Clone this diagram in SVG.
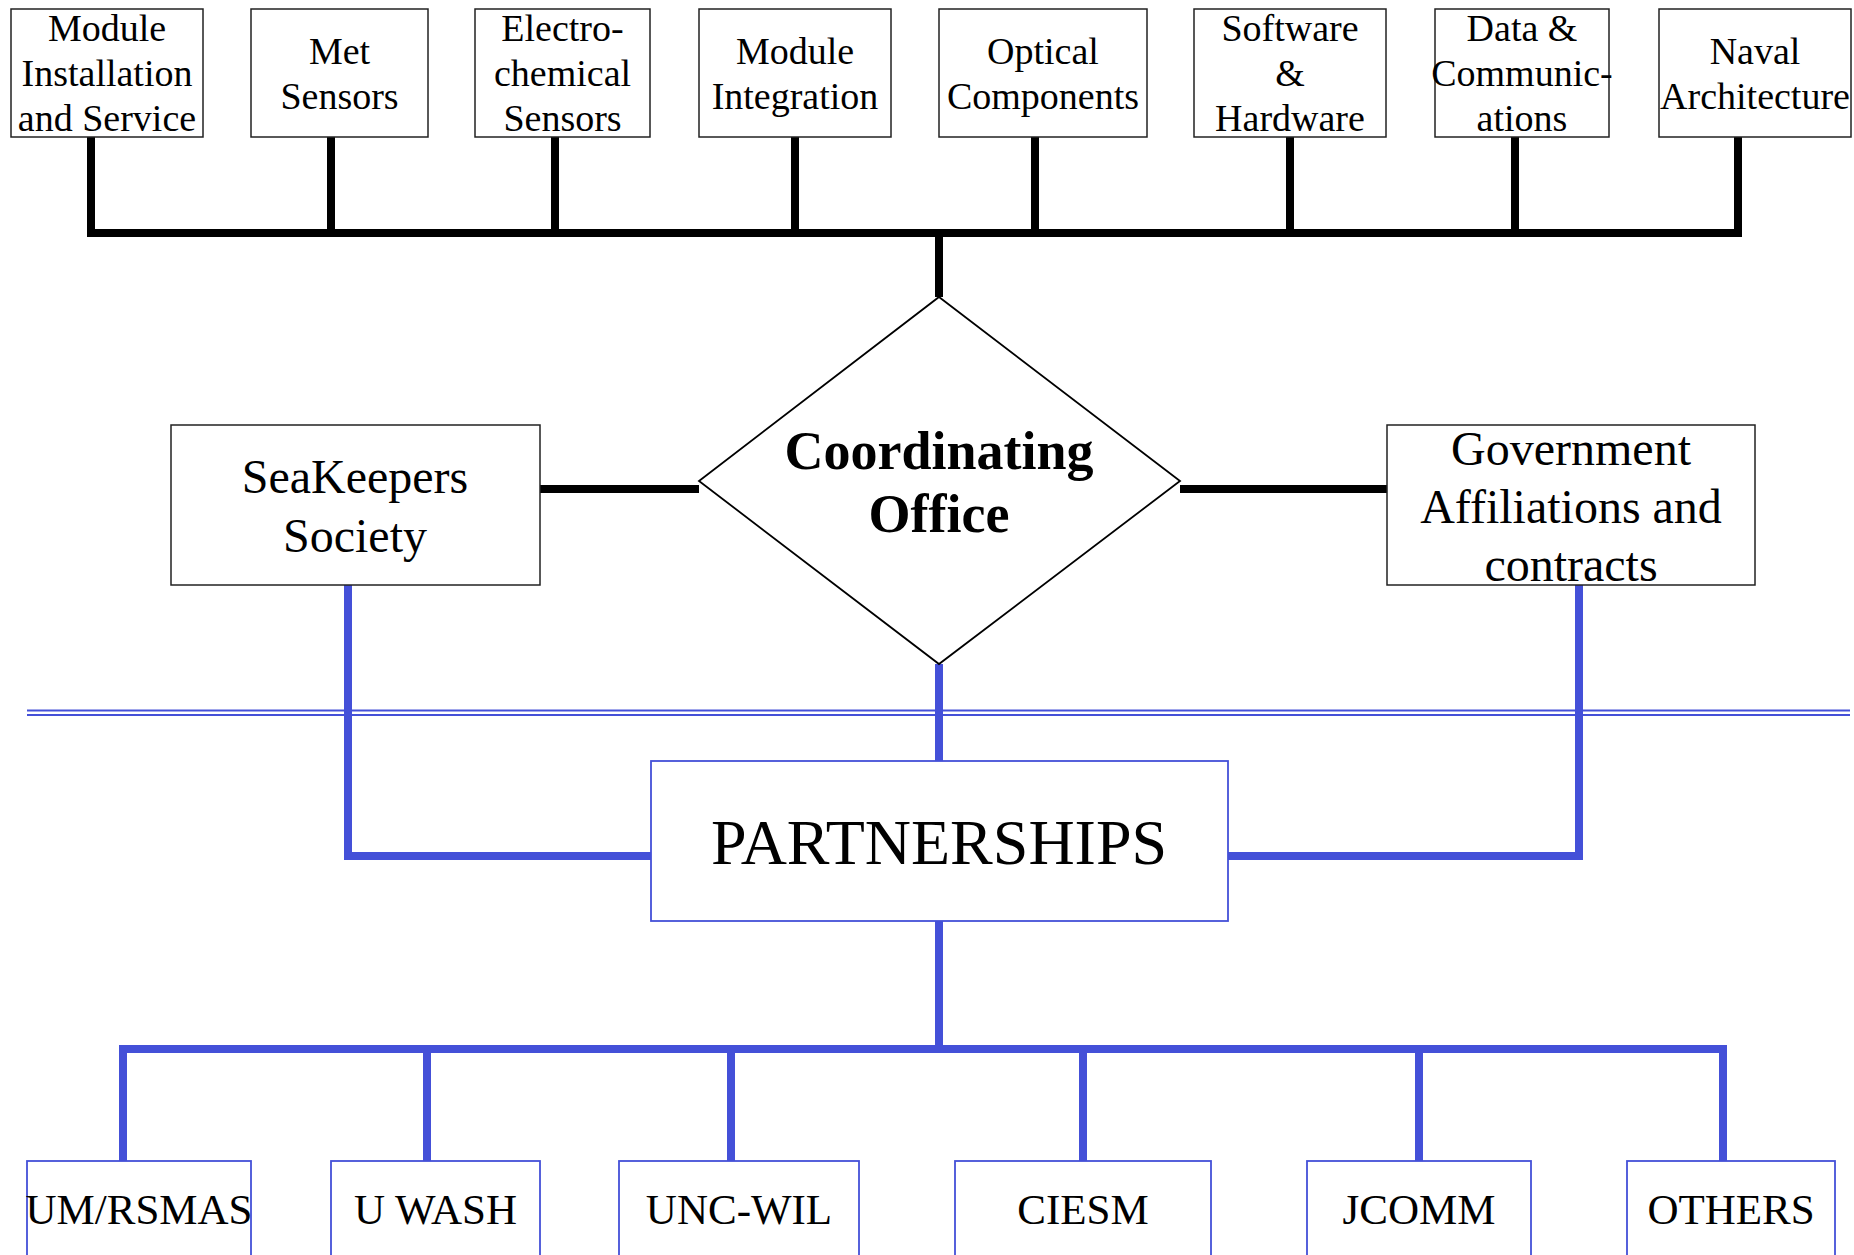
<svg xmlns="http://www.w3.org/2000/svg" width="1854" height="1255" viewBox="0 0 1854 1255">
<style>
.box{fill:#fff;stroke:#222;stroke-width:1.5}
.bbox{fill:#fff;stroke:#4450d8;stroke-width:1.8}
.t{font-family:"Liberation Serif","Times New Roman",serif;fill:#000;text-anchor:middle}
.top{font-size:38px}
.mid{font-size:48px}
.bot{font-size:43px}
.blk{stroke:#000;stroke-width:8;fill:none}
.blu{stroke:#4450d8;stroke-width:8;fill:none}
.dbl{stroke:#4450d8;stroke-width:2;fill:none}
</style>
<rect width="1854" height="1255" fill="#fff"/>
<g id="connectors">
  <path class="blk" d="M91,137V233M331,137V233M555,137V233M795,137V233M1035,137V233M1290,137V233M1515,137V233M1738,137V233"/>
  <path class="blk" d="M87,233H1742M939,233V297"/>
  <path class="blk" d="M540,489H699M1180,489H1387"/>
  <path class="dbl" d="M27,710.5H1850M27,715H1850"/>
  <path class="blu" d="M939,664V761M348,585V856H651M1579,585V856H1227"/>
  <path class="blu" d="M939,921V1049M119,1049H1727M123,1049V1161M427,1049V1161M731,1049V1161M1083,1049V1161M1419,1049V1161M1723,1049V1161"/>
</g>
<g id="n-module-install"><rect class="box" x="11" y="9" width="192" height="128"/><text class="t top" x="107" y="41">Module</text><text class="t top" x="107" y="86">Installation</text><text class="t top" x="107" y="131">and Service</text></g>
<g id="n-met"><rect class="box" x="251" y="9" width="177" height="128"/><text class="t top" x="339.5" y="64">Met</text><text class="t top" x="339.5" y="109">Sensors</text></g>
<g id="n-electro"><rect class="box" x="475" y="9" width="175" height="128"/><text class="t top" x="562.5" y="41">Electro-</text><text class="t top" x="562.5" y="86">chemical</text><text class="t top" x="562.5" y="131">Sensors</text></g>
<g id="n-module-int"><rect class="box" x="699" y="9" width="192" height="128"/><text class="t top" x="795" y="64">Module</text><text class="t top" x="795" y="109">Integration</text></g>
<g id="n-optical"><rect class="box" x="939" y="9" width="208" height="128"/><text class="t top" x="1043" y="64">Optical</text><text class="t top" x="1043" y="109">Components</text></g>
<g id="n-software"><rect class="box" x="1194" y="9" width="192" height="128"/><text class="t top" x="1290" y="41">Software</text><text class="t top" x="1290" y="86">&amp;</text><text class="t top" x="1290" y="131">Hardware</text></g>
<g id="n-data"><rect class="box" x="1435" y="9" width="174" height="128"/><text class="t top" x="1522" y="41">Data &amp;</text><text class="t top" x="1522" y="86">Communic-</text><text class="t top" x="1522" y="131">ations</text></g>
<g id="n-naval"><rect class="box" x="1659" y="9" width="192" height="128"/><text class="t top" x="1755" y="64">Naval</text><text class="t top" x="1755" y="109">Architecture</text></g>
<g id="n-coord"><polygon points="939,297 1180,481 939,664 699,481" fill="#fff" stroke="#000" stroke-width="1.8"/><text class="t" x="939" y="469" font-size="54" font-weight="bold">Coordinating</text><text class="t" x="939" y="532" font-size="54" font-weight="bold">Office</text></g>
<g id="n-seakeepers"><rect class="box" x="171" y="425" width="369" height="160"/><text class="t mid" x="355" y="493">SeaKeepers</text><text class="t mid" x="355" y="552">Society</text></g>
<g id="n-gov"><rect class="box" x="1387" y="425" width="368" height="160"/><text class="t mid" x="1571" y="465">Government</text><text class="t mid" x="1571" y="523">Affiliations and</text><text class="t mid" x="1571" y="581">contracts</text></g>
<g id="n-partnerships"><rect class="bbox" x="651" y="761" width="577" height="160"/><text class="t" x="939" y="864" font-size="64">PARTNERSHIPS</text></g>
<g id="n-umrsmas"><rect class="bbox" x="27" y="1161" width="224" height="140"/><text class="t bot" x="139" y="1224">UM/RSMAS</text></g>
<g id="n-uwash"><rect class="bbox" x="331" y="1161" width="209" height="140"/><text class="t bot" x="435.5" y="1224">U WASH</text></g>
<g id="n-uncwil"><rect class="bbox" x="619" y="1161" width="240" height="140"/><text class="t bot" x="739" y="1224">UNC-WIL</text></g>
<g id="n-ciesm"><rect class="bbox" x="955" y="1161" width="256" height="140"/><text class="t bot" x="1083" y="1224">CIESM</text></g>
<g id="n-jcomm"><rect class="bbox" x="1307" y="1161" width="224" height="140"/><text class="t bot" x="1419" y="1224">JCOMM</text></g>
<g id="n-others"><rect class="bbox" x="1627" y="1161" width="208" height="140"/><text class="t bot" x="1731" y="1224">OTHERS</text></g>
</svg>
